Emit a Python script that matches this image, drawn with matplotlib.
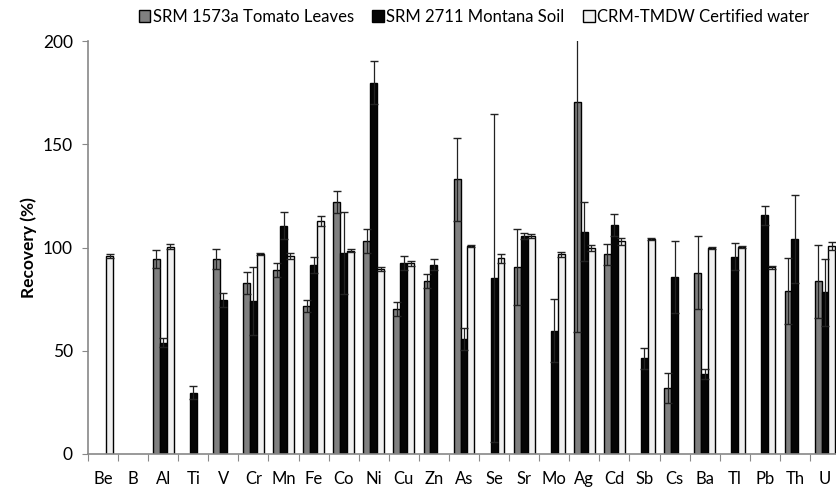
import numpy as np
import matplotlib
matplotlib.use("Agg")
import matplotlib.pyplot as plt

plt.rcParams['font.family'] = ['Lato', 'DejaVu Sans']

elements = ["Be", "B", "Al", "Ti", "V", "Cr", "Mn", "Fe", "Co", "Ni", "Cu", "Zn", "As",
            "Se", "Sr", "Mo", "Ag", "Cd", "Sb", "Cs", "Ba", "Tl", "Pb", "Th", "U"]

nan = np.nan
# SRM 1573a Tomato Leaves
tomato = [nan, nan, 94.6, nan, 94.6, 82.8, 89.1, 71.7, 122.0, 103.1, 70.0, 83.8, 133.0,
          nan, 90.4, nan, 170.6, 96.7, nan, 32.1, 87.7, nan, nan, 79.1, 83.6]
tomato_err = [0, 0, 4.3, 0, 4.8, 5.5, 3.5, 3.0, 5.3, 5.7, 3.4, 3.2, 20.2,
              0, 18.4, 0, 111.4, 5.1, 0, 7.3, 17.7, 0, 0, 16.0, 17.6]
# SRM 2711 Montana Soil
soil = [nan, nan, 53.9, 29.7, 74.6, 74.1, 110.6, 91.7, 97.5, 179.8, 92.6, 91.7, 55.7,
        85.2, 105.6, 59.7, 107.7, 110.8, 46.3, 85.6, 38.7, 95.6, 115.7, 104.0, 78.3]
soil_err = [0, 0, 2.1, 3.1, 3.2, 16.5, 6.6, 3.9, 19.9, 10.4, 3.3, 2.6, 5.5,
            79.6, 1.3, 15.2, 14.3, 5.3, 5.2, 17.5, 2.5, 6.7, 4.6, 21.3, 16.3]
# CRM-TMDW Certified water
water = [95.9, nan, 100.4, nan, nan, 96.7, 96.0, 113.0, 98.5, 89.6, 92.3, nan, 100.9,
         94.8, 105.6, 96.7, 99.6, 103.1, 104.0, nan, 99.9, 100.1, 90.4, nan, 100.7]
water_err = [0.9, 0, 1.1, 0, 0, 0.5, 1.5, 2.4, 0.8, 0.8, 1.2, 0, 0.5,
             2.1, 0.8, 1.3, 1.5, 1.7, 0.6, 0, 0.5, 0.5, 0.6, 0, 2.0]

W, H = 837, 488
fig = plt.figure(figsize=(W / 100, H / 100), dpi=100)
ax = fig.add_axes([88 / W, (H - 454) / H, 752 / W, 413 / H])

x = np.arange(len(elements))
bw = 0.23
series = [
    (tomato, tomato_err, "#808080", "SRM 1573a Tomato Leaves"),
    (soil, soil_err, "#050505", "SRM 2711 Montana Soil"),
    (water, water_err, "#f0f0f0", "CRM-TMDW Certified water"),
]
for i, (vals, err, col, lab) in enumerate(series):
    pos = x + (i - 1) * bw
    vals = np.array(vals, dtype=float)
    err = np.array(err, dtype=float)
    ax.bar(pos, vals, bw, color=col, edgecolor="black", linewidth=1.0, label=lab, zorder=2)
    ok = ~np.isnan(vals)
    ax.errorbar(pos[ok], vals[ok], yerr=err[ok], fmt="none", ecolor="#222222",
                elinewidth=0.9, capsize=3, capthick=1.0, zorder=3)

ax.set_xlim(-0.5, len(elements) - 0.5)
ax.set_ylim(0, 200)
ax.set_yticks([0, 50, 100, 150, 200])
ax.tick_params(axis="y", labelsize=12.5, length=4, color="#888888", pad=7)
ax.set_xticks(np.arange(len(elements) + 1) - 0.5)
ax.set_xticklabels([])
ax.set_xticks(x, minor=True)
ax.set_xticklabels(elements, minor=True)
ax.tick_params(axis="x", which="major", length=5, color="#888888", direction="out")
ax.tick_params(axis="x", which="minor", length=0, labelsize=12, pad=12)
for s in ["top", "right"]:
    ax.spines[s].set_visible(False)
for s in ["left", "bottom"]:
    ax.spines[s].set_color("#888888")
    ax.spines[s].set_linewidth(1.2)
ax.set_ylabel("Recovery (%)", fontsize=12.5, fontweight="bold", labelpad=4)

handles, labels = ax.get_legend_handles_labels()
fig.legend(handles, labels, loc="center", bbox_to_anchor=(474 / W, (H - 17) / H), ncol=3,
           frameon=False, fontsize=12, handlelength=0.7, handleheight=0.7,
           handletextpad=0.15, columnspacing=1.1, borderaxespad=0)

fig.savefig("out.png", dpi=100)
